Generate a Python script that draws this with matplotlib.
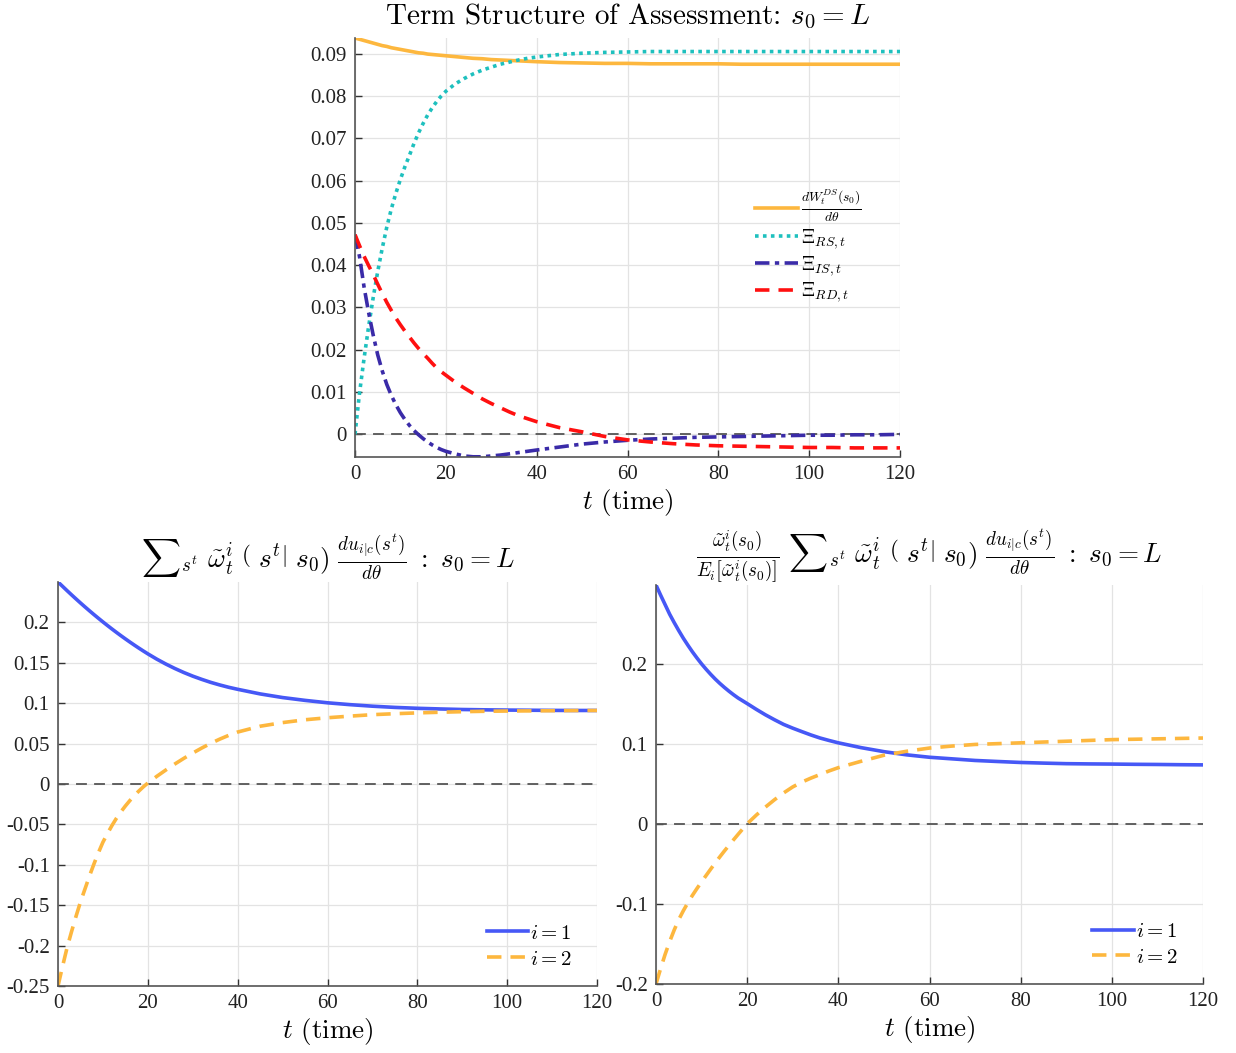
import matplotlib
matplotlib.use("Agg")
import matplotlib.pyplot as plt

plt.rcParams['font.family'] = ['Liberation Serif', 'DejaVu Serif']
plt.rcParams['mathtext.fontset'] = 'cm'
plt.rcParams['axes.unicode_minus'] = False

# ---------------- data ----------------
t_top = [0, 1, 2, 3, 4, 5, 6, 7, 8, 9, 10, 11, 12, 13, 14, 15, 16, 17, 18, 19, 20,
         22, 24, 26, 28, 30, 32, 34, 36, 38, 40, 45, 50, 55, 60, 65, 70, 75, 80, 85,
         90, 95, 100, 105, 110, 115, 120]
dW = [0.0937, 0.0934, 0.0931, 0.0928, 0.0925, 0.0922, 0.0919, 0.0917, 0.0914, 0.0912,
      0.0910, 0.0908, 0.0906, 0.0904, 0.0902, 0.0901, 0.0899, 0.0898, 0.0897, 0.0896,
      0.0895, 0.0893, 0.0891, 0.0889, 0.0888, 0.0886, 0.0885, 0.0884, 0.0883, 0.0882,
      0.0881, 0.0879, 0.0878, 0.0877, 0.0877, 0.0876, 0.0876, 0.0876, 0.0876, 0.0875,
      0.0875, 0.0875, 0.0875, 0.0875, 0.0875, 0.0875, 0.0875]
xi_RS = [0.0, 0.0098, 0.0180, 0.0255, 0.0323, 0.0385, 0.0440, 0.0490, 0.0533, 0.0570,
         0.0603, 0.0633, 0.0660, 0.0688, 0.0713, 0.0735, 0.0755, 0.0772, 0.0787, 0.0800,
         0.0811, 0.0828, 0.0841, 0.0852, 0.0861, 0.0868, 0.0875, 0.0880, 0.0885, 0.0889,
         0.0892, 0.0898, 0.0901, 0.0903, 0.0904, 0.0905, 0.0905, 0.0905, 0.0905, 0.0905,
         0.0905, 0.0905, 0.0905, 0.0905, 0.0905, 0.0905, 0.0905]
xi_IS = [0.0472, 0.0420, 0.0348, 0.0288, 0.0235, 0.0188, 0.0150, 0.0118, 0.0092, 0.0070,
         0.0051, 0.0035, 0.0021, 0.0009, -0.0001, -0.0010, -0.0018, -0.0025, -0.0031, -0.0036,
         -0.0040, -0.0046, -0.0051, -0.0053, -0.0053, -0.0051, -0.0049, -0.0046, -0.0043, -0.0040,
         -0.0037, -0.0030, -0.0023, -0.0018, -0.0014, -0.0011, -0.0009, -0.0007, -0.0006, -0.0005,
         -0.0004, -0.0003, -0.0002, -0.0002, -0.0001, -0.0001, 0.0]
xi_RD = [0.0472, 0.0446, 0.0421, 0.0399, 0.0378, 0.0355, 0.0333, 0.0312, 0.0293, 0.0275,
         0.0259, 0.0244, 0.0230, 0.0216, 0.0203, 0.0191, 0.0180, 0.0168, 0.0157, 0.0148,
         0.0140, 0.0124, 0.0110, 0.0097, 0.0084, 0.0073, 0.0063, 0.0053, 0.0044, 0.0037,
         0.0030, 0.0016, 0.0006, -0.0005, -0.0013, -0.0018, -0.0022, -0.0025, -0.0027, -0.0028,
         -0.0029, -0.0030, -0.0031, -0.0031, -0.0032, -0.0032, -0.0032]

t_bot = [0, 1, 2, 3, 4, 5, 6, 7, 8, 9, 10, 11, 12, 13, 14, 15, 16, 17, 18, 19, 20,
         22, 24, 26, 28, 30, 32, 34, 36, 38, 40, 45, 50, 55, 60, 65, 70, 75, 80, 85,
         90, 95, 100, 105, 110, 115, 120]
left_i1 = [0.2500, 0.2447, 0.2394, 0.2342, 0.2291, 0.2241, 0.2192, 0.2144, 0.2097, 0.2051,
           0.2006, 0.1962, 0.1919, 0.1877, 0.1836, 0.1796, 0.1757, 0.1719, 0.1682, 0.1646,
           0.1611, 0.1545, 0.1485, 0.1430, 0.1380, 0.1335, 0.1295, 0.1258, 0.1226, 0.1197,
           0.1172, 0.1115, 0.1070, 0.1035, 0.1005, 0.0982, 0.0963, 0.0948, 0.0937, 0.0929,
           0.0922, 0.0918, 0.0915, 0.0913, 0.0911, 0.0910, 0.0910]
left_i2 = [-0.250, -0.226, -0.203, -0.183, -0.164, -0.146, -0.130, -0.114, -0.099, -0.085,
           -0.072, -0.0615, -0.0515, -0.0425, -0.0345, -0.0272, -0.0205, -0.0143, -0.0087, -0.0035,
           0.0012, 0.0095, 0.0173, 0.0247, 0.0317, 0.0383, 0.0445, 0.0503, 0.0555, 0.0602,
           0.0643, 0.0715, 0.0760, 0.0795, 0.0820, 0.0840, 0.0858, 0.0870, 0.0880, 0.0888,
           0.0895, 0.0900, 0.0903, 0.0905, 0.0907, 0.0909, 0.0910]
right_i1 = [0.298, 0.2855, 0.2735, 0.2615, 0.2510, 0.2410, 0.2315, 0.2228, 0.2145, 0.2068,
            0.1995, 0.1928, 0.1865, 0.1806, 0.1752, 0.1702, 0.1655, 0.1611, 0.1570, 0.1535,
            0.1500, 0.1428, 0.1360, 0.1298, 0.1240, 0.1193, 0.1150, 0.1108, 0.1070, 0.1039,
            0.1010, 0.0950, 0.0900, 0.0860, 0.0830, 0.0810, 0.0790, 0.0777, 0.0765, 0.0757,
            0.0750, 0.0747, 0.0745, 0.0742, 0.0740, 0.0737, 0.0735]
right_i2 = [-0.200, -0.181, -0.163, -0.147, -0.1325, -0.1195, -0.1085, -0.0985, -0.0893, -0.0807,
            -0.0725, -0.0645, -0.0566, -0.0488, -0.0413, -0.0340, -0.0270, -0.0201, -0.0133, -0.0066,
            0.0, 0.0108, 0.0208, 0.0300, 0.0385, 0.0460, 0.0520, 0.0570, 0.0615, 0.0660,
            0.0700, 0.0780, 0.0855, 0.0905, 0.0945, 0.0970, 0.0990, 0.1000, 0.1010, 0.1020,
            0.1030, 0.1040, 0.1050, 0.1055, 0.1060, 0.1065, 0.1070]

x_ticks = [0, 20, 40, 60, 80, 100, 120]
top_yticks = [0, 0.01, 0.02, 0.03, 0.04, 0.05, 0.06, 0.07, 0.08, 0.09]
top_yticklabels = ['0', '0.01', '0.02', '0.03', '0.04', '0.05', '0.06', '0.07', '0.08', '0.09']
left_yticks = [-0.25, -0.2, -0.15, -0.1, -0.05, 0, 0.05, 0.1, 0.15, 0.2]
left_yticklabels = ['-0.25', '-0.2', '-0.15', '-0.1', '-0.05', '0', '0.05', '0.1', '0.15', '0.2']
right_yticks = [-0.2, -0.1, 0, 0.1, 0.2]
right_yticklabels = ['-0.2', '-0.1', '0', '0.1', '0.2']

top_labels = [r'$\frac{dW_t^{DS}(s_0)}{d\theta}$', r'$\Xi_{RS,t}$', r'$\Xi_{IS,t}$', r'$\Xi_{RD,t}$']
bot_labels = [r'$i = 1$', r'$i = 2$']

C_OR = '#FDB73E'
C_TEAL = '#1EC0BE'
C_IS = '#3A2BA8'
C_RED = '#FF1010'
C_BLUE = '#4658F6'

TICK_FS = 15
LAB_FS = 19.5
LW = 2.6

fig = plt.figure(figsize=(12.36, 10.53), dpi=100)
ax_top = fig.add_axes([355/1236, 1-457/1053, 545/1236, (457-38)/1053])
ax_bl = fig.add_axes([58/1236, 1-986/1053, 539/1236, (986-582)/1053])
ax_br = fig.add_axes([656/1236, 1-984/1053, 547/1236, (984-585)/1053])


def style(ax, yticks, yticklabels):
    ax.set_xlim(0, 120)
    ax.set_xticks(x_ticks)
    ax.set_xticklabels([str(v) for v in x_ticks])
    ax.set_yticks(yticks)
    ax.set_yticklabels(yticklabels)
    ax.grid(True, color='#e3e3e3', lw=0.9)
    ax.set_axisbelow(True)
    for s in ['top', 'right']:
        ax.spines[s].set_visible(False)
    for s in ['left', 'bottom']:
        ax.spines[s].set_color('#555555')
        ax.spines[s].set_linewidth(1.2)
    ax.tick_params(direction='in', length=5, width=1.0, color='#333333',
                   labelsize=TICK_FS, labelcolor='#222222', pad=6)
    ax.axhline(0, color='#555555', lw=1.3, ls=(0, (6, 4)), zorder=1.5)
    ax.set_xlabel(r'$t$ (time)', fontsize=LAB_FS, family='cmr10', labelpad=2)


# top
style(ax_top, top_yticks, top_yticklabels)
ax_top.set_ylim(-0.00535, 0.0937)
ax_top.plot(t_top, dW, color=C_OR, lw=LW, ls='-', label=top_labels[0])
ax_top.plot(t_top, xi_RS, color=C_TEAL, lw=LW, ls=(0, (1, 1.2)), label=top_labels[1])
ax_top.plot(t_top, xi_IS, color=C_IS, lw=LW, ls=(0, (4, 1.5, 1.2, 1.5)), label=top_labels[2])
ax_top.plot(t_top, xi_RD, color=C_RED, lw=LW, ls=(0, (4, 2.5)), label=top_labels[3])
ax_top.set_title(r'Term Structure of Assessment: $s_0 = L$', fontsize=21, family='cmr10', pad=10)
ax_top.legend(loc='upper left', bbox_to_anchor=(0.72, 0.66), frameon=False, fontsize=14,
              handlelength=2.2, handletextpad=0.15, labelspacing=0.15, borderaxespad=0)

# bottom left
style(ax_bl, left_yticks, left_yticklabels)
ax_bl.set_ylim(-0.25, 0.25)
ax_bl.plot(t_bot, left_i1, color=C_BLUE, lw=LW, ls='-', label=bot_labels[0])
ax_bl.plot(t_bot, left_i2, color=C_OR, lw=LW, ls=(0, (4, 2.5)), label=bot_labels[1])
ax_bl.set_title(r'${\sum}_{s^t}\ \tilde{\omega}_t^i\ \left(\ s^t \right|\ s_0)\ \frac{du_{i|c}(s^t)}{d\theta}\ :\ s_0 = L$',
                fontsize=LAB_FS, pad=10)
ax_bl.legend(loc='lower right', bbox_to_anchor=(0.97, 0.02), frameon=False, fontsize=15,
             handlelength=2.0, handletextpad=0.1, labelspacing=0.3, borderaxespad=0)

# bottom right
style(ax_br, right_yticks, right_yticklabels)
ax_br.set_ylim(-0.2, 0.298)
ax_br.plot(t_bot, right_i1, color=C_BLUE, lw=LW, ls='-', label=bot_labels[0])
ax_br.plot(t_bot, right_i2, color=C_OR, lw=LW, ls=(0, (4, 2.5)), label=bot_labels[1])
ax_br.set_title(r'$\frac{\tilde{\omega}_t^i(s_0)}{E_i\left[\tilde{\omega}_t^i(s_0)\right]}\ {\sum}_{s^t}\ \tilde{\omega}_t^i\ \left(\ s^t \right|\ s_0)\ \frac{du_{i|c}(s^t)}{d\theta}\ :\ s_0 = L$',
                fontsize=LAB_FS, pad=10)
ax_br.legend(loc='lower right', bbox_to_anchor=(0.97, 0.02), frameon=False, fontsize=15,
             handlelength=2.0, handletextpad=0.1, labelspacing=0.3, borderaxespad=0)

fig.savefig('out.png', dpi=100)
